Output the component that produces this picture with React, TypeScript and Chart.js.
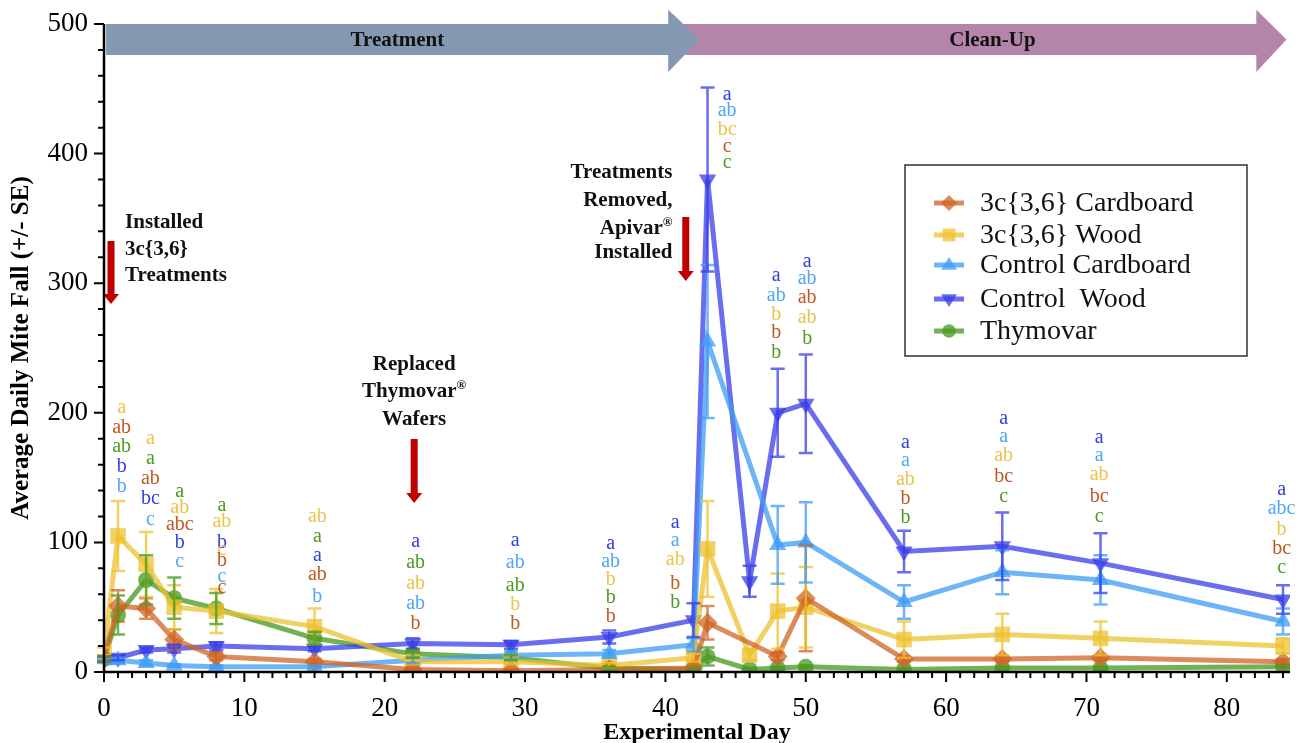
import React, { useEffect, useRef } from "react";
import { Chart, registerables } from "chart.js";
Chart.register(...registerables);

const DAYS = [0, 1, 3, 5, 8, 15, 22, 29, 36, 42, 43, 46, 48, 50, 57, 64, 71, 84];
const SERIES_NAMES = ["3c{3,6} Cardboard", "3c{3,6} Wood", "Control Cardboard", "Control  Wood", "Thymovar"];
const CARDBOARD_3C = [11, 51, 49, 25, 12, 8, 2, 1, 2, 3, 38, null, 12, 57, 10, 10, 11, 8];
const CARDBOARD_3C_SE = [2, 12, 8, 8, 3, 2, 1, 1, 1, 1, 13, null, 3, 41, 2, 2, 2, 2];
const WOOD_3C = [16, 105, 83, 50, 47, 35, 8, 8, 5, 11, 95, 13, 47, 50, 25, 29, 26, 20];
const WOOD_3C_SE = [3, 27, 25, 17, 17, 14, 2, 2, 2, 3, 37, 4, 29, 31, 14, 16, 13, 6];
const CONTROL_CARDBOARD = [9, 9, 7, 5, 4, 4, 9, 13, 14, 21, 255, null, 98, 100, 54, 77, 71, 39];
const CONTROL_CARDBOARD_SE = [2, 2, 2, 1, 1, 1, 2, 3, 3, 5, 59, null, 30, 31, 13, 17, 19, 10];
const CONTROL_WOOD = [10, 11, 17, 18, 20, 18, 22, 21, 27, 40, 380, 70, 200, 207, 93, 97, 84, 56];
const CONTROL_WOOD_SE = [2, 2, 2, 3, 3, 2, 4, 3, 5, 13, 71, 12, 34, 38, 16, 26, 23, 11];
const THYMOVAR = [10, 44, 71, 57, 49, 26, 14, 11, 3, 2, 12, 2, 3, 4, 2, 3, 3, 4];
const THYMOVAR_SE = [2, 15, 19, 16, 12, 5, 3, 2, 1, 1, 7, 1, 1, 1, 1, 1, 1, 1];

const SERIES_VALUES = [CARDBOARD_3C, WOOD_3C, CONTROL_CARDBOARD, CONTROL_WOOD, THYMOVAR];
const SERIES_SE = [CARDBOARD_3C_SE, WOOD_3C_SE, CONTROL_CARDBOARD_SE, CONTROL_WOOD_SE, THYMOVAR_SE];
const SERIES_COLORS = [
  "rgba(208,100,36,0.75)",
  "rgba(238,194,48,0.75)",
  "rgba(62,156,246,0.75)",
  "rgba(56,60,232,0.75)",
  "rgba(76,156,36,0.78)",
];
const LETTER_COLORS = ["#C0581E", "#EBC24A", "#4FA6F5", "#3340E0", "#4C9A22"];
const POINT_STYLES = ["rectRot", "rect", "triangle", "triangle", "circle"];
const POINT_ROTATION = [0, 0, 0, 180, 0];
const POINT_RADIUS = [10, 11, 10, 10, 8];

const X_TICKS_MAJOR = [0, 10, 20, 30, 40, 50, 60, 70, 80];
const Y_TICKS_MAJOR = [0, 100, 200, 300, 400, 500];

const LETTER_X = [1.26, 3.3, 5.4, 8.4, 15.2, 22.2, 29.3, 36.1, 40.7, 44.4, 47.9, 50.1, 57.1, 64.1, 70.9, 83.9];
const LETTER_TEXT = [
  ["a", "ab", "ab", "b", "b"],
  ["a", "a", "ab", "bc", "c"],
  ["a", "ab", "abc", "b", "c"],
  ["a", "ab", "b", "c", "b", "c", "c"],
  ["ab", "a", "a", "ab", "b"],
  ["a", "ab", "ab", "ab", "b"],
  ["a", "ab", "ab", "b", "b"],
  ["a", "ab", "b", "b", "b"],
  ["a", "a", "ab", "b", "b"],
  ["a", "ab", "bc", "c", "c"],
  ["a", "ab", "b", "b", "b"],
  ["a", "ab", "ab", "ab", "b"],
  ["a", "a", "ab", "b", "b"],
  ["a", "a", "ab", "bc", "c"],
  ["a", "a", "ab", "bc", "c"],
  ["a", "abc", "b", "bc", "c"],
];
const LETTER_SERIES = [
  [1, 0, 4, 3, 2],
  [1, 4, 0, 3, 2],
  [4, 1, 0, 3, 2],
  [4, 1, 3, 1, 0, 2, 0],
  [1, 4, 3, 0, 2],
  [3, 4, 1, 2, 0],
  [3, 2, 4, 1, 0],
  [3, 2, 1, 4, 0],
  [3, 2, 1, 0, 4],
  [3, 2, 1, 0, 4],
  [3, 2, 1, 0, 4],
  [3, 2, 0, 1, 4],
  [3, 2, 1, 0, 4],
  [3, 2, 1, 0, 4],
  [3, 2, 1, 0, 4],
  [3, 2, 1, 0, 4],
];
const LETTER_Y = [
  [203.7, 188.3, 173.6, 158.2, 142.7],
  [179.8, 164.4, 148.9, 133.5, 117.3],
  [138.9, 126.5, 113.4, 99.5, 84.9],
  [128.1, 115.7, 99.5, 94.1, 85.6, 73.3, 64.8],
  [119.6, 104.2, 89.5, 74.8, 57.9],
  [100.3, 84.1, 67.9, 52.5, 37.0],
  [101.1, 84.1, 66.4, 51.7, 37.0],
  [98.8, 84.9, 71.0, 57.1, 42.4],
  [115, 101, 86.4, 67.9, 53.2],
  [445.2, 432.9, 418.2, 405.1, 392.7],
  [305.6, 290.1, 275.5, 261.6, 246.1],
  [316.4, 303.2, 288.6, 273.1, 256.9],
  [176.7, 162.8, 148.1, 133.5, 118.8],
  [195.2, 181.3, 166.7, 150.5, 135.0],
  [180.6, 166.7, 152.0, 135.0, 119.6],
  [140.4, 125.8, 109.6, 94.9, 80.2],
];

const PHASE_LABELS = ["Clean-Up", "Treatment"];
const PHASE_BODY_START = [41.25, 0.15];
const PHASE_HEAD_START = [82.1, 40.2];
const PHASE_TIP = [84.25, 42.45];
const PHASE_LABEL_X = [63.3, 20.9];
const PHASE_COLORS = ["#B584AA", "#8498B2"];

const NOTE_LINES = [
  ["Installed", "3c{3,6}", "Treatments"],
  ["Replaced", "Thymovar®", "Wafers"],
  ["Treatments", "Removed,", "Apivar®", "Installed"],
];
const NOTE_TEXT_X = [1.5, 22.1, 40.5];
const NOTE_ALIGN = ["left", "center", "right"];
const NOTE_TEXT_Y = [
  [347, 326.3, 305.5],
  [236.9, 216, 194.4],
  [385, 364, 341.8, 323.3],
];
const NOTE_ARROW_X = [0.5, 22.1, 41.45];
const NOTE_ARROW_TOP = [332.6, 179.8, 351];
const NOTE_ARROW_BOTTOM = [284, 130.4, 301.7];

const SERIF = '"Liberation Serif", "Times New Roman", serif';

function drawRich(ctx: CanvasRenderingContext2D, text: string, x: number, y: number, align: string, size: number, bold: boolean) {
  const parts = text.split("®");
  const font = `${bold ? "bold " : ""}${size}px ${SERIF}`;
  const supFont = `${bold ? "bold " : ""}${Math.round(size * 0.6)}px ${SERIF}`;
  ctx.font = font;
  const w1 = ctx.measureText(parts[0]).width;
  let w2 = 0;
  let w3 = 0;
  if (parts.length > 1) {
    ctx.font = supFont;
    w2 = ctx.measureText("®").width;
    ctx.font = font;
    w3 = ctx.measureText(parts[1]).width;
  }
  const total = w1 + w2 + w3;
  const sx = align === "center" ? x - total / 2 : align === "right" ? x - total : x;
  ctx.textAlign = "left";
  ctx.textBaseline = "middle";
  ctx.font = font;
  ctx.fillText(parts[0], sx, y);
  if (parts.length > 1) {
    ctx.font = supFont;
    ctx.fillText("®", sx + w1, y - size * 0.3);
    ctx.font = font;
    ctx.fillText(parts[1], sx + w1 + w2, y);
  }
}

const decorPlugin = {
  id: "decor",
  beforeDatasetsDraw(chart: any) {
    const { ctx, scales } = chart;
    const xs = scales.x;
    const ys = scales.y;
    ctx.save();
    for (let i = 0; i < PHASE_LABELS.length; i++) {
      const x0 = xs.getPixelForValue(PHASE_BODY_START[i]);
      const xh = xs.getPixelForValue(PHASE_HEAD_START[i]);
      const xt = xs.getPixelForValue(PHASE_TIP[i]);
      const yb0 = ys.getPixelForValue(500);
      const yb1 = ys.getPixelForValue(476);
      const yh0 = ys.getPixelForValue(511);
      const yh1 = ys.getPixelForValue(463);
      const yc = (yb0 + yb1) / 2;
      ctx.fillStyle = PHASE_COLORS[i];
      ctx.beginPath();
      ctx.moveTo(x0, yb0);
      ctx.lineTo(xh, yb0);
      ctx.lineTo(xh, yh0);
      ctx.lineTo(xt, yc);
      ctx.lineTo(xh, yh1);
      ctx.lineTo(xh, yb1);
      ctx.lineTo(x0, yb1);
      ctx.closePath();
      ctx.fill();
      ctx.fillStyle = "#111";
      ctx.font = `bold 21px ${SERIF}`;
      ctx.textAlign = "center";
      ctx.textBaseline = "middle";
      ctx.fillText(PHASE_LABELS[i], xs.getPixelForValue(PHASE_LABEL_X[i]), yc + 1);
    }
    for (let i = 0; i < NOTE_LINES.length; i++) {
      const ax = xs.getPixelForValue(NOTE_ARROW_X[i]);
      const at = ys.getPixelForValue(NOTE_ARROW_TOP[i]);
      const ab = ys.getPixelForValue(NOTE_ARROW_BOTTOM[i]);
      ctx.fillStyle = "#C00000";
      ctx.beginPath();
      ctx.moveTo(ax - 3.5, at);
      ctx.lineTo(ax + 3.5, at);
      ctx.lineTo(ax + 3.5, ab - 10);
      ctx.lineTo(ax + 8, ab - 10);
      ctx.lineTo(ax, ab);
      ctx.lineTo(ax - 8, ab - 10);
      ctx.lineTo(ax - 3.5, ab - 10);
      ctx.closePath();
      ctx.fill();
      ctx.fillStyle = "#111";
      const tx = xs.getPixelForValue(NOTE_TEXT_X[i]);
      NOTE_LINES[i].forEach((line, j) => {
        drawRich(ctx, line, tx, ys.getPixelForValue(NOTE_TEXT_Y[i][j]), NOTE_ALIGN[i], 21, true);
      });
    }
    ctx.restore();
  },
  afterDatasetsDraw(chart: any) {
    const { ctx, scales } = chart;
    const xs = scales.x;
    const ys = scales.y;
    ctx.save();
    ctx.lineWidth = 2.5;
    for (let s = 0; s < SERIES_VALUES.length; s++) {
      ctx.strokeStyle = SERIES_COLORS[s];
      for (let k = 0; k < DAYS.length; k++) {
        const v = SERIES_VALUES[s][k];
        const e = SERIES_SE[s][k];
        if (v == null || e == null) continue;
        const px = xs.getPixelForValue(DAYS[k]);
        const pt = ys.getPixelForValue(v + e);
        const pb = ys.getPixelForValue(Math.max(0, v - e));
        ctx.beginPath();
        ctx.moveTo(px, pt);
        ctx.lineTo(px, pb);
        ctx.moveTo(px - 7, pt);
        ctx.lineTo(px + 7, pt);
        ctx.moveTo(px - 7, pb);
        ctx.lineTo(px + 7, pb);
        ctx.stroke();
      }
    }
    ctx.restore();
  },
  afterDraw(chart: any) {
    const { ctx, scales, chartArea } = chart;
    const xs = scales.x;
    const ys = scales.y;
    ctx.save();
    ctx.strokeStyle = "#000";
    ctx.lineWidth = 2.5;
    ctx.beginPath();
    ctx.moveTo(chartArea.left, chartArea.top);
    ctx.lineTo(chartArea.left, chartArea.bottom);
    ctx.lineTo(chartArea.right, chartArea.bottom);
    ctx.stroke();
    ctx.lineWidth = 2;
    ctx.beginPath();
    for (let v = 0; v <= 500; v += 20) {
      const py = ys.getPixelForValue(v);
      const len = v % 100 === 0 ? 10 : 6;
      ctx.moveTo(chartArea.left, py);
      ctx.lineTo(chartArea.left - len, py);
    }
    for (let d = 0; d <= 84; d += 1) {
      const px = xs.getPixelForValue(d);
      const len = d % 10 === 0 ? 10 : 6;
      ctx.moveTo(px, chartArea.bottom);
      ctx.lineTo(px, chartArea.bottom + len);
    }
    ctx.stroke();
    ctx.font = `20px ${SERIF}`;
    ctx.textAlign = "center";
    ctx.textBaseline = "middle";
    for (let g = 0; g < LETTER_X.length; g++) {
      const px = xs.getPixelForValue(LETTER_X[g]);
      for (let j = 0; j < LETTER_TEXT[g].length; j++) {
        ctx.fillStyle = LETTER_COLORS[LETTER_SERIES[g][j]];
        ctx.fillText(LETTER_TEXT[g][j], px, ys.getPixelForValue(LETTER_Y[g][j]));
      }
    }
    const L = 905, T = 165, R = 1247, B = 356;
    ctx.fillStyle = "#fff";
    ctx.fillRect(L, T, R - L, B - T);
    ctx.strokeStyle = "#333";
    ctx.lineWidth = 1.5;
    ctx.strokeRect(L, T, R - L, B - T);
    const rowY = [203, 235, 265, 299, 331];
    for (let s = 0; s < SERIES_NAMES.length; s++) {
      const y = rowY[s];
      ctx.strokeStyle = SERIES_COLORS[s];
      ctx.lineWidth = 5;
      ctx.beginPath();
      ctx.moveTo(934, y);
      ctx.lineTo(964, y);
      ctx.stroke();
      ctx.fillStyle = SERIES_COLORS[s];
      const cx = 949;
      const r = 8;
      ctx.beginPath();
      if (s === 0) {
        ctx.moveTo(cx, y - r); ctx.lineTo(cx + r, y); ctx.lineTo(cx, y + r); ctx.lineTo(cx - r, y);
      } else if (s === 1) {
        ctx.rect(cx - r * 0.8, y - r * 0.8, r * 1.6, r * 1.6);
      } else if (s === 2) {
        ctx.moveTo(cx, y - r); ctx.lineTo(cx + r, y + r * 0.6); ctx.lineTo(cx - r, y + r * 0.6);
      } else if (s === 3) {
        ctx.moveTo(cx, y + r); ctx.lineTo(cx + r, y - r * 0.6); ctx.lineTo(cx - r, y - r * 0.6);
      } else {
        ctx.arc(cx, y, r * 0.85, 0, Math.PI * 2);
      }
      ctx.closePath();
      ctx.fill();
      ctx.fillStyle = "#111";
      ctx.font = `28px ${SERIF}`;
      ctx.textAlign = "left";
      ctx.textBaseline = "middle";
      ctx.fillText(SERIES_NAMES[s], 980, y + 1);
    }
    ctx.restore();
  },
};

export default function App() {
  const ref = useRef<HTMLCanvasElement | null>(null);
  useEffect(() => {
    if (!ref.current) return;
    const datasets = SERIES_NAMES.map((name, s) => ({
      label: name,
      data: DAYS.map((d, k) => ({ x: d, y: SERIES_VALUES[s][k] })),
      borderColor: SERIES_COLORS[s],
      backgroundColor: SERIES_COLORS[s],
      borderWidth: 5,
      pointStyle: POINT_STYLES[s],
      pointRotation: POINT_ROTATION[s],
      pointRadius: POINT_RADIUS[s],
      pointBorderWidth: 0,
      pointBackgroundColor: SERIES_COLORS[s],
      tension: 0,
      spanGaps: true,
      fill: false,
    }));
    const chart = new Chart(ref.current, {
      type: "line",
      data: { datasets: datasets as any },
      plugins: [decorPlugin as any],
      options: {
        animation: false,
        responsive: false,
        devicePixelRatio: 1,
        layout: { padding: { left: 0, right: 21, top: 24, bottom: 0 } },
        plugins: { legend: { display: false }, tooltip: { enabled: false } },
        scales: {
          x: {
            type: "linear",
            min: 0,
            max: 84.5,
            afterFit: (scale: any) => {
              scale.height = 71;
              scale.paddingLeft = 0;
              scale.paddingRight = 0;
            },
            grid: { display: false, drawTicks: false },
            border: { display: false },
            ticks: {
              stepSize: 10,
              includeBounds: false,
              autoSkip: false,
              maxRotation: 0,
              padding: 21,
              color: "#000",
              font: { family: SERIF, size: 27 },
              callback: (v: any) => (X_TICKS_MAJOR.includes(Number(v)) ? String(v) : ""),
            },
            title: {
              display: true,
              text: "Experimental Day",
              color: "#000",
              font: { family: SERIF, size: 24, weight: "bold" },
              padding: { top: 0, bottom: -4 },
            },
          },
          y: {
            type: "linear",
            min: 0,
            max: 500,
            afterFit: (scale: any) => {
              scale.width = 104;
              scale.paddingTop = 0;
              scale.paddingBottom = 0;
            },
            grid: { display: false, drawTicks: false },
            border: { display: false },
            ticks: {
              stepSize: 100,
              padding: 16,
              color: "#000",
              font: { family: SERIF, size: 27 },
              callback: (v: any) => (Y_TICKS_MAJOR.includes(Number(v)) ? String(v) : ""),
            },
            title: {
              display: true,
              text: "Average Daily Mite Fall (+/- SE)",
              color: "#000",
              font: { family: SERIF, size: 25, weight: "bold" },
              padding: { top: 7, bottom: 0 },
            },
          },
        },
      } as any,
    });
    return () => chart.destroy();
  }, []);
  return (
    <div style={{ position: "fixed", left: 0, top: 0, width: 1311, height: 743, background: "#fff" }}>
      <canvas ref={ref} width={1311} height={743} style={{ display: "block", width: 1311, height: 743 }} />
    </div>
  );
}
